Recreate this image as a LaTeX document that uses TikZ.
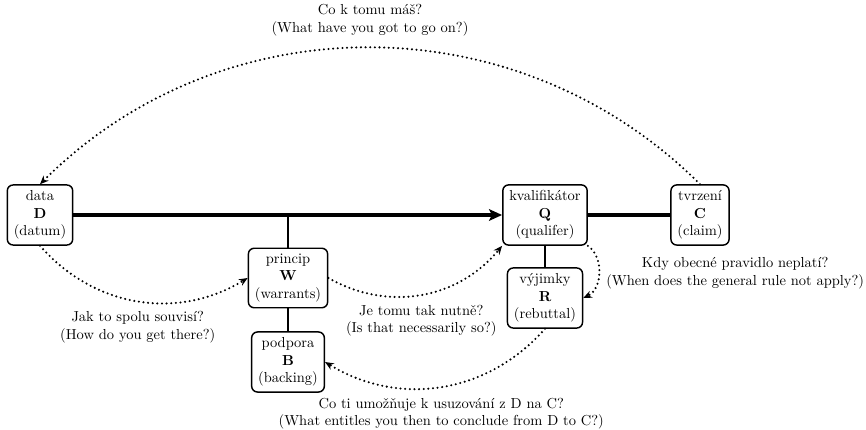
\documentclass[tikz,border=0pt]{standalone}
\usetikzlibrary{arrows.meta}
\begin{document}
\begin{tikzpicture}[x=0.69pt,y=-0.69pt,
  box/.style={draw,line width=1pt,rounded corners=4pt,align=center,fill=white,inner xsep=4.5pt,inner ysep=4pt},
  mainline/.style={line width=2.6pt},
  subline/.style={line width=1.4pt},
  ask/.style={line width=1.6pt,dash pattern=on 0pt off 3.2pt,line cap=round,-{Stealth[length=6pt,width=5pt]}},
  lbl/.style={align=center}]
\useasboundingbox (0,0) rectangle (866,430);
\node[box] (D) at (40,215) {data\\\textbf{D}\\(datum)};
\node[box] (Q) at (545,215) {kvalifikátor\\\textbf{Q}\\(qualifer)};
\node[box] (C) at (700,215) {tvrzení\\\textbf{C}\\(claim)};
\node[box] (W) at (288,278) {princip\\\textbf{W}\\(warrants)};
\node[box] (B) at (288,362) {podpora\\\textbf{B}\\(backing)};
\node[box] (R) at (545,298) {výjimky\\\textbf{R}\\(rebuttal)};
\coordinate (J) at (W.north |- D.east);
\draw[mainline,-{Stealth[length=9pt,width=8pt,inset=2pt]}] (D.east) -- (Q.west);
\draw[mainline] (Q.east) -- (C.west);
\draw[subline] (J) -- (W.north);
\draw[subline] (W.south) -- (B.north);
\draw[subline] (Q.south) -- (R.north);
\draw[ask] (C.north) to[bend right=45] node[midway,above=4pt,lbl] {Co k tomu máš?\\(What have you got to go on?)} (D.north);
\draw[ask] (D.south) to[bend right=40] node[midway,below=3pt,lbl] {Jak to spolu souvisí?\\(How do you get there?)} (W.west);
\draw[ask] (W.east) to[bend right=40] node[midway,below=3pt,lbl] {Je tomu tak nutně?\\(Is that necessarily so?)} (Q.south west);
\draw[ask] (Q.south east) to[bend left=60] node[midway,right=1pt,lbl] {Kdy obecné pravidlo neplatí?\\(When does the general rule not apply?)} (R.east);
\draw[ask] (R.south) to[bend left=40] node[midway,below=3.5pt,lbl] {Co ti umožňuje k usuzování z D na C?\\(What entitles you then to conclude from D to C?)} (B.east);
\end{tikzpicture}
\end{document}
